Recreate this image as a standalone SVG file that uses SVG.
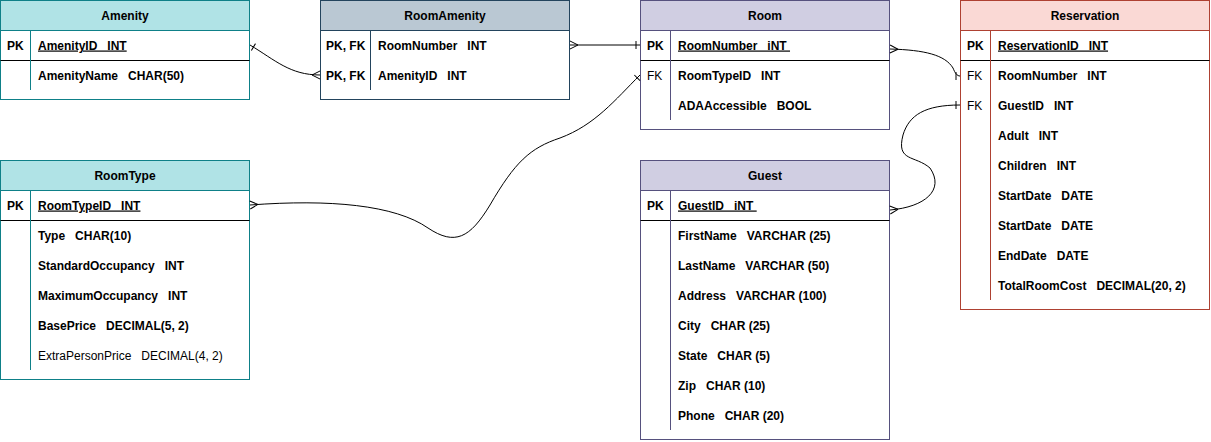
<svg xmlns="http://www.w3.org/2000/svg" width="1211" height="442" viewBox="0 0 1211 442">
<style>
text{font-family:"Liberation Sans",Arial,Helvetica,sans-serif;font-size:12px;white-space:pre;fill:#000}
.b{font-weight:bold}
.h{font-weight:bold;text-anchor:middle}
.u{text-decoration:underline}
.sep{stroke:#000;stroke-width:1}
.teal{stroke:#0e8088}
.slate{stroke:#23445d}
.purple{stroke:#56517e}
.red{stroke:#ae4132}
.box{fill:#fff;stroke-width:1}
.conn{fill:none;stroke:#000;stroke-width:1}
</style>
<defs>
<marker id="many" markerUnits="userSpaceOnUse" markerWidth="14" markerHeight="14" refX="10" refY="5" orient="auto-start-reverse" overflow="visible">
<path d="M2,5 L10,1 M2,5 L10,9" fill="none" stroke="#000" stroke-width="1"/>
</marker>
<marker id="one" markerUnits="userSpaceOnUse" markerWidth="14" markerHeight="14" refX="10" refY="5" orient="auto-start-reverse" overflow="visible">
<path d="M6,1 L6,9" fill="none" stroke="#000" stroke-width="1"/>
</marker>
</defs>

<g id="Amenity">
<rect class="box teal" x="0.5" y="0.5" width="249" height="99"/>
<rect x="0.5" y="0.5" width="249" height="30" fill="#b0e3e6" stroke="#0e8088"/>
<text class="h" x="125" y="19.5">Amenity</text>
<line class="sep" x1="0.5" y1="60.5" x2="249.5" y2="60.5"/>
<line class="teal" x1="30.5" y1="30.5" x2="30.5" y2="90"/>
<text class="b" x="7" y="49.5">PK</text>
<text class="b u" x="38" y="49.5">AmenityID   INT</text>
<text class="b" x="38" y="79.5">AmenityName   CHAR(50)</text>
</g>

<g id="RoomAmenity">
<rect class="box slate" x="320.5" y="0.5" width="249" height="99"/>
<rect x="320.5" y="0.5" width="249" height="30" fill="#bac8d3" stroke="#23445d"/>
<text class="h" x="445" y="19.5">RoomAmenity</text>
<line class="slate" x1="370.5" y1="30.5" x2="370.5" y2="90"/>
<text class="b" x="326" y="49.5">PK, FK</text>
<text class="b" x="378" y="49.5">RoomNumber   INT</text>
<text class="b" x="326" y="79.5">PK, FK</text>
<text class="b" x="378" y="79.5">AmenityID   INT</text>
</g>

<g id="Room">
<rect class="box purple" x="640.5" y="0.5" width="249" height="129"/>
<rect x="640.5" y="0.5" width="249" height="30" fill="#d0cee2" stroke="#56517e"/>
<text class="h" x="765" y="19.5">Room</text>
<line class="sep" x1="640.5" y1="60.5" x2="889.5" y2="60.5"/>
<line class="purple" x1="670.5" y1="30.5" x2="670.5" y2="120"/>
<text class="b" x="647" y="49.5">PK</text>
<text class="b u" x="678" y="49.5">RoomNumber   iNT </text>
<text x="647" y="79.5">FK</text>
<text class="b" x="678" y="79.5">RoomTypeID   INT</text>
<text class="b" x="678" y="109.5">ADAAccessible   BOOL</text>
</g>

<g id="Reservation">
<rect class="box red" x="960.5" y="0.5" width="249" height="309"/>
<rect x="960.5" y="0.5" width="249" height="30" fill="#fad9d5" stroke="#ae4132"/>
<text class="h" x="1085" y="19.5">Reservation</text>
<line class="sep" x1="960.5" y1="60.5" x2="1209.5" y2="60.5"/>
<line class="red" x1="990.5" y1="30.5" x2="990.5" y2="300"/>
<text class="b" x="967" y="49.5">PK</text>
<text class="b u" x="998" y="49.5">ReservationID   INT</text>
<text x="967" y="79.5">FK</text>
<text class="b" x="998" y="79.5">RoomNumber   INT</text>
<text x="967" y="109.5">FK</text>
<text class="b" x="998" y="109.5">GuestID   INT</text>
<text class="b" x="998" y="139.5">Adult   INT</text>
<text class="b" x="998" y="169.5">Children   INT</text>
<text class="b" x="998" y="199.5">StartDate   DATE</text>
<text class="b" x="998" y="229.5">StartDate   DATE</text>
<text class="b" x="998" y="259.5">EndDate   DATE</text>
<text class="b" x="998" y="289.5">TotalRoomCost   DECIMAL(20, 2)</text>
</g>

<g id="RoomType">
<rect class="box teal" x="0.5" y="160.5" width="249" height="219"/>
<rect x="0.5" y="160.5" width="249" height="30" fill="#b0e3e6" stroke="#0e8088"/>
<text class="h" x="125" y="179.5">RoomType</text>
<line class="sep" x1="0.5" y1="220.5" x2="249.5" y2="220.5"/>
<line class="teal" x1="30.5" y1="190.5" x2="30.5" y2="370"/>
<text class="b" x="7" y="209.5">PK</text>
<text class="b u" x="38" y="209.5">RoomTypeID   INT</text>
<text class="b" x="38" y="239.5">Type   CHAR(10)</text>
<text class="b" x="38" y="269.5">StandardOccupancy   INT</text>
<text class="b" x="38" y="299.5">MaximumOccupancy   INT</text>
<text class="b" x="38" y="329.5">BasePrice   DECIMAL(5, 2)</text>
<text x="38" y="359.5">ExtraPersonPrice   DECIMAL(4, 2)</text>
</g>

<g id="Guest">
<rect class="box purple" x="640.5" y="160.5" width="249" height="279"/>
<rect x="640.5" y="160.5" width="249" height="30" fill="#d0cee2" stroke="#56517e"/>
<text class="h" x="765" y="179.5">Guest</text>
<line class="sep" x1="640.5" y1="220.5" x2="889.5" y2="220.5"/>
<line class="purple" x1="670.5" y1="190.5" x2="670.5" y2="430"/>
<text class="b" x="647" y="209.5">PK</text>
<text class="b u" x="678" y="209.5">GuestID   iNT </text>
<text class="b" x="678" y="239.5">FirstName   VARCHAR (25)</text>
<text class="b" x="678" y="269.5">LastName   VARCHAR (50)</text>
<text class="b" x="678" y="299.5">Address   VARCHAR (100)</text>
<text class="b" x="678" y="329.5">City   CHAR (25)</text>
<text class="b" x="678" y="359.5">State   CHAR (5)</text>
<text class="b" x="678" y="389.5">Zip   CHAR (10)</text>
<text class="b" x="678" y="419.5">Phone   CHAR (20)</text>
</g>

<g id="connectors">
<path class="conn" d="M250,45 C275,60 290,75 320,75" marker-start="url(#one)" marker-end="url(#many)"/>
<path class="conn" d="M570,45 L640,45" marker-start="url(#many)" marker-end="url(#one)"/>
<path class="conn" d="M250,205 C330,199 395,205 428,228 C455,246 470,238 490,205 C515,162 530,148 560,138 C595,125 615,100 640,75" marker-start="url(#many)" marker-end="url(#one)"/>
<path class="conn" d="M890,49 C925,50 945,55 953,68 C955,73 957,76 960,76" marker-start="url(#many)" marker-end="url(#one)"/>
<path class="conn" d="M890,210 C925,207 945,190 930,168 C915,155 896,162 903,135 C909,115 925,105 960,105" marker-start="url(#many)" marker-end="url(#one)"/>
</g>
</svg>
